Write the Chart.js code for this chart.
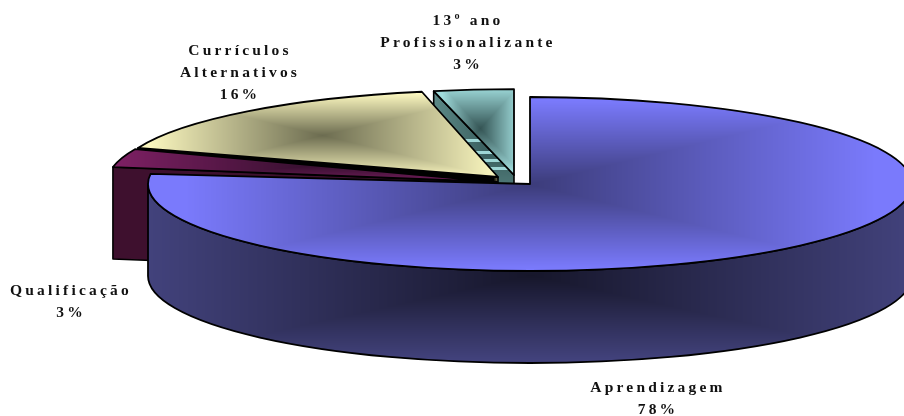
<!DOCTYPE html>
<html><head><meta charset="utf-8">
<style>html,body{margin:0;padding:0;background:#fff}canvas{display:block}</style>
<script src="https://cdn.jsdelivr.net/npm/chart.js@4/dist/chart.umd.min.js"></script>
</head><body>
<canvas id="c" width="904" height="416"></canvas>
<script>
const categories = ['Aprendizagem', 'Qualificação', 'Currículos Alternativos', '13º ano Profissionalizante'];
const shares = [78, 3, 16, 3];
const shareLabels = ['78%', '3%', '16%', '3%'];

const labelLines = [['Aprendizagem', '78%'], ['Qualificação', '3%'], ['Currículos', 'Alternativos', '16%'], ['13º ano', 'Profissionalizante', '3%']];
const labelAnchors = [[658, 392], [71, 295], [240, 55], [468, 25]];
const TILT = 87 / 382, DEPTH = 92, W = 904, H = 416;
const explodePx = [[0, 0], [-33, -2], [-32, -7], [-16, -9]];
const radiusScale = [1, 1.02, 1, 0.987];
const perspectiveDeg = [[0, -4.15], [-1.1, 0.1], [-2.1, -0.7], [-1.5, 0]];

function boxPattern(cx, cy, hx, hy, c0, c1, extra) {
  const cv = document.createElement('canvas'); cv.width = W; cv.height = H;
  const g = cv.getContext('2d'), im = g.createImageData(W, H), d = im.data;
  for (let y = 0; y < H; y++) for (let x = 0; x < W; x++) {
    const t = Math.min(1, Math.max(Math.abs(x - cx) / hx, Math.abs(y - cy) / hy));
    let c = [0, 1, 2].map(i => c0[i] + (c1[i] - c0[i]) * t);
    if (extra) c = extra(x, y, c);
    const i = (y * W + x) * 4;
    d[i] = c[0]; d[i + 1] = c[1]; d[i + 2] = c[2]; d[i + 3] = 255;
  }
  g.putImageData(im, 0, 0);
  return g.createPattern(cv, 'no-repeat');
}
const stripes = (x, y, c) => ((y >= 139 && y < 142) || (y >= 151 && y < 154) || (y >= 159 && y < 162) || (y >= 167 && y < 170)) ? [158, 214, 214] : c;

const faceFill = [
  boxPattern(530, 184, 345, 84, [60, 60, 122], [122, 122, 252]),
  boxPattern(305, 166, 192, 18, [56, 16, 48], [126, 32, 100]),
  boxPattern(322, 135, 175, 42, [108, 108, 80], [252, 248, 192]),
  boxPattern(480, 128, 38, 42, [52, 84, 84], [160, 220, 220])
];
const wallFill = {
  main: boxPattern(530, 275, 382, 84, [22, 22, 42], [66, 66, 124]),
  qual: boxPattern(300, 220, 200, 100, [62, 16, 46], [62, 16, 46]),
  curr: boxPattern(498, 180, 5, 5, [150, 140, 96], [0, 0, 0]),
  top: boxPattern(490, 150, 60, 60, [56, 92, 92], [94, 140, 138], stripes)
};

const pie3d = {
  id: 'pie3d',
  afterDatasetsUpdate(chart) {
    const arcs = chart.getDatasetMeta(0).data;
    arcs.forEach((a, i) => {
      a.x += explodePx[i][0];
      a.y += explodePx[i][1] / TILT;
      a.startAngle += perspectiveDeg[i][0] * Math.PI / 180;
      a.endAngle += perspectiveDeg[i][1] * Math.PI / 180;
      a.circumference = a.endAngle - a.startAngle;
      a.outerRadius *= radiusScale[i];
    });
  },
  beforeDatasetsDraw(chart) {
    const ctx = chart.ctx, arcs = chart.getDatasetMeta(0).data;
    const cx = arcs[0].x, cy = arcs[0].y;
    const P = (a, ang, r) => [a.x + r * Math.cos(ang), cy + (a.y + r * Math.sin(ang) - cy) * TILT];
    const wall = (i, fill) => {
      const a = arcs[i], ap = P(a, 0, 0), o = P(a, a.startAngle, a.outerRadius);
      ctx.beginPath(); ctx.moveTo(ap[0], ap[1]); ctx.lineTo(o[0], o[1]);
      ctx.lineTo(o[0], o[1] + DEPTH); ctx.lineTo(ap[0], ap[1] + DEPTH); ctx.closePath();
      ctx.fillStyle = fill; ctx.fill();
      ctx.strokeStyle = '#000'; ctx.lineWidth = 1.6; ctx.lineJoin = 'round'; ctx.stroke();
    };
    wall(3, wallFill.top); wall(2, wallFill.curr); wall(1, wallFill.qual);
    const R = arcs[0].outerRadius, ry = R * TILT;
    ctx.beginPath();
    ctx.ellipse(cx, cy, R, ry, 0, 0, Math.PI);
    ctx.ellipse(cx, cy + DEPTH, R, ry, 0, Math.PI, 0, true);
    ctx.closePath();
    ctx.fillStyle = wallFill.main; ctx.fill();
    ctx.strokeStyle = '#000'; ctx.lineWidth = 1.8; ctx.stroke();

    ctx.save();
    ctx.translate(cx, cy); ctx.scale(1, TILT); ctx.translate(-cx, -cy);
    const inv = ctx.getTransform().inverse();
    faceFill.forEach(p => p.setTransform(inv));
  },
  afterDatasetsDraw(chart) {
    const ctx = chart.ctx, arcs = chart.getDatasetMeta(0).data;
    ctx.restore();
    const cx = arcs[0].x, cy = arcs[0].y;
    arcs.forEach(a => {
      ctx.save();
      ctx.translate(cx, cy); ctx.scale(1, TILT); ctx.translate(-cx, -cy);
      ctx.beginPath();
      ctx.moveTo(a.x, a.y);
      ctx.arc(a.x, a.y, a.outerRadius, a.startAngle, a.endAngle);
      ctx.closePath();
      ctx.restore();
      ctx.strokeStyle = '#000'; ctx.lineWidth = 1.8; ctx.lineJoin = 'round'; ctx.stroke();
    });
  },
  afterDraw(chart) {
    const ctx = chart.ctx;
    ctx.save();
    ctx.font = 'bold 15.5px "Liberation Serif"';
    ctx.letterSpacing = '3.2px';
    ctx.fillStyle = '#111';
    ctx.textAlign = 'center';
    ctx.textBaseline = 'alphabetic';
    labelLines.forEach((lines, i) => {
      const step = lines.length === 3 ? 22 : 21.5;
      lines.forEach((t, j) => ctx.fillText(t, labelAnchors[i][0], labelAnchors[i][1] + j * step));
    });
    ctx.restore();
  }
};

new Chart(document.getElementById('c'), {
  type: 'pie',
  data: {
    labels: categories,
    datasets: [{ data: shares, backgroundColor: faceFill, borderWidth: 0, radius: 382, clip: false }]
  },
  options: {
    responsive: false,
    animation: false,
    events: [],
    layout: { padding: { left: 156, bottom: 48 } },
    plugins: { legend: { display: false }, tooltip: { enabled: false } }
  },
  plugins: [pie3d]
});
</script>
</body></html>
